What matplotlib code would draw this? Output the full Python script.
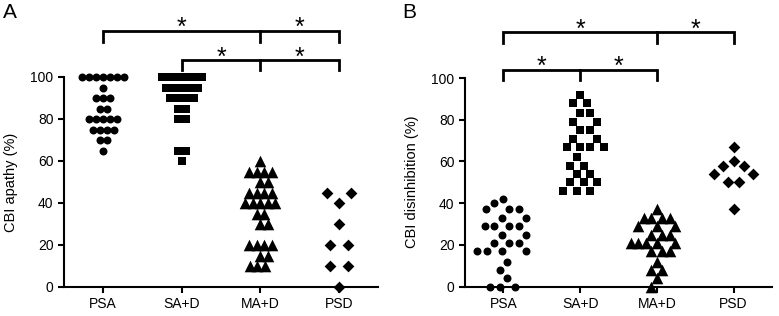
import matplotlib
matplotlib.use("Agg")
from matplotlib import pyplot as plt
import numpy as np

plt.rcParams['font.family'] = ['Liberation Sans', 'DejaVu Sans']

groups = ['PSA', 'SA+D', 'MA+D', 'PSD']
markers = ['o', 's', '^', 'D']
sizes = [33, 33, 70, 36]

# panel A: CBI apathy (%)
apathy_psa = [100, 100, 100, 100, 100, 100, 100, 95, 90, 90, 90, 85, 85,
              80, 80, 80, 80, 80, 75, 75, 75, 75, 70, 70, 65]
apathy_sad = [100, 100, 100, 100, 100, 100, 95, 95, 95, 95, 95, 90, 90, 90, 90,
              85, 85, 80, 80, 65, 65, 60]
apathy_mad = [60, 55, 55, 55, 55, 50, 50, 45, 45, 45, 45, 40, 40, 40, 40, 40,
              35, 35, 30, 30, 20, 20, 20, 20, 15, 15, 10, 10, 10]
apathy_psd = [45, 45, 40, 30, 20, 20, 10, 10, 0]

# panel B: CBI disinhibition (%)
disinh_psa = [42, 40, 37, 37, 37, 33, 33, 29, 29, 29, 29, 25, 25, 21, 21, 21,
              17, 17, 17, 17, 12, 8, 4, 0, 0, 0]
disinh_sad = [92, 88, 88, 83, 83, 79, 79, 75, 75, 71, 71, 67, 67, 67, 67, 62,
              58, 58, 54, 54, 50, 50, 50, 46, 46, 46]
disinh_mad = [37, 33, 33, 33, 33, 29, 29, 29, 25, 25, 25, 21, 21, 21, 21, 21,
              17, 17, 17, 12, 8, 8, 4, 0]
disinh_psd = [67, 60, 58, 58, 54, 54, 50, 50, 37]

# significance brackets: (start, middle, end, line y, tick bottom y)
brackets_a = [(0, 2, 3, 122, 116.5), (1, 2, 3, 108, 103.5)]
brackets_b = [(0, 2, 3, 122, 117), (0, 1, 2, 104, 99)]

# swarm spacing in pixels (horizontal, vertical reach, top-down?)
swarm_a = [(7, 9, True), (8, 9, True), (7.5, 11.5, True), (18, 14, False)]
swarm_b = [(9.5, 13, True), (10, 11, True), (7.5, 12, True), (11, 14, True)]


def swarm(ax, vals, center, hx, hy, topdown):
    # rows are centred when they fit, otherwise points are packed one by one
    tr = ax.transData
    ppu = tr.transform((1, 0))[0] - tr.transform((0, 0))[0]
    vals = np.asarray(vals, dtype=float)
    xs = np.zeros(len(vals))
    placed = []

    def hits(x, y):
        for qx, qy in placed:
            if ((qx - x) / hx) ** 2 + ((qy - y) / hy) ** 2 < 0.999:
                return True
        return False

    cand = np.arange(0, 80, 0.25)
    k = 0
    for v in sorted(set(vals), reverse=topdown):
        idx = np.where(vals == v)[0]
        n = len(idx)
        y = tr.transform((0, v))[1]
        row = (np.arange(n) - (n - 1) / 2) * hx
        if not any(hits(p, y) for p in row):
            for j, p in zip(idx, row):
                placed.append((p, y))
                xs[j] = center + p / ppu
            continue
        for j in idx:
            best = 0
            for c in cand:
                found = False
                for sgn in ((1, -1) if k % 2 else (-1, 1)):
                    if not hits(sgn * c, y):
                        best = sgn * c
                        found = True
                        break
                if found:
                    break
            k += 1
            placed.append((best, y))
            xs[j] = center + best / ppu
    return xs


def panel(ax, data, ylabel, brackets, spacing, lx, fig):
    ax.set_xlim(-0.5, 3.5)
    ax.set_ylim(0, 100)
    for i, vals in enumerate(data):
        hx, hy, td = spacing[i]
        xs = swarm(ax, vals, i, hx, hy, td)
        ax.scatter(xs, vals, marker=markers[i], s=sizes[i], color='black',
                   linewidths=0, clip_on=False, zorder=3)
    for s in ['top', 'right']:
        ax.spines[s].set_visible(False)
    for s in ['left', 'bottom']:
        ax.spines[s].set_linewidth(1.5)
    ax.spines['left'].set_bounds(0, 100)
    ax.set_yticks(np.arange(0, 101, 20))
    ax.set_xticks(range(4))
    ax.set_xticklabels(groups)
    ax.tick_params(axis='both', width=1.5, length=4, labelsize=10, pad=3.5)
    for a, m, b, yl, yt in brackets:
        ax.plot([a, a, b, b], [yt, yl, yl, yt], color='black', lw=2,
                clip_on=False, solid_joinstyle='miter')
        ax.plot([m, m], [yl, yt], color='black', lw=2, clip_on=False)
        ax.text((a + m) / 2, yl - 4.5, '*', ha='center', va='bottom',
                fontsize=18, clip_on=False)
        ax.text((m + b) / 2, yl - 4.5, '*', ha='center', va='bottom',
                fontsize=18, clip_on=False)
    fig.text(lx, 0.424, ylabel, rotation=90, ha='center', va='center',
             fontsize=10.5)


fig = plt.figure(figsize=(7.79, 3.16), dpi=100)
ax1 = fig.add_axes([64 / 779, 29 / 316, 314 / 779, 210 / 316])
ax2 = fig.add_axes([465 / 779, 29.3 / 316, 307 / 779, 208.7 / 316])

panel(ax1, [apathy_psa, apathy_sad, apathy_mad, apathy_psd], 'CBI apathy (%)',
      brackets_a, swarm_a, 11 / 779, fig)
panel(ax2, [disinh_psa, disinh_sad, disinh_mad, disinh_psd],
      'CBI disinhibition (%)', brackets_b, swarm_b, 412 / 779, fig)

fig.text(3 / 779, 1 - 3 / 316, 'A', fontsize=15, ha='left', va='top')
fig.text(402 / 779, 1 - 3 / 316, 'B', fontsize=15, ha='left', va='top')

fig.savefig('out.png', dpi=100)
